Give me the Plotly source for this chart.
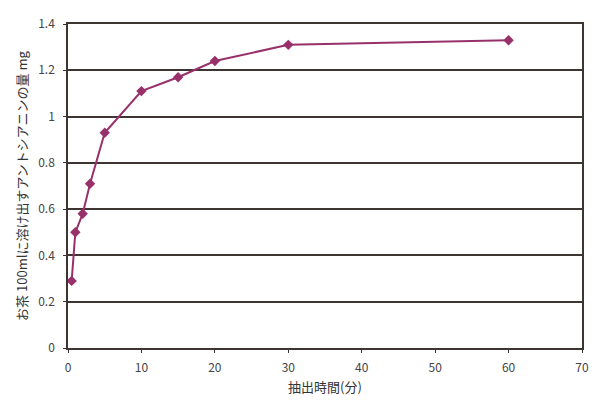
import plotly.graph_objects as go

# Extraction time (minutes) and anthocyanin amount dissolved into 100 ml of tea (mg)
minutes = [0.5, 1, 2, 3, 5, 10, 15, 20, 30, 60]
anthocyanin_mg = [0.29, 0.50, 0.58, 0.71, 0.93, 1.11, 1.17, 1.24, 1.31, 1.33]

x_ticks = [0, 10, 20, 30, 40, 50, 60, 70]
y_ticks = [0, 0.2, 0.4, 0.6, 0.8, 1.0, 1.2, 1.4]
y_tick_text = ["0", "0.2", "0.4", "0.6", "0.8", "1", "1.2", "1.4"]

line_color = "#98306a"
frame_color = "#3d3532"
font = "Noto Sans CJK JP, Noto Sans, sans-serif"

fig = go.Figure()
fig.add_trace(go.Scatter(
    x=minutes, y=anthocyanin_mg,
    mode="lines+markers",
    line=dict(color=line_color, width=2),
    marker=dict(symbol="diamond", size=8, color=line_color),
    showlegend=False,
))

fig.update_xaxes(
    range=[0, 70], tickvals=x_ticks, automargin=False,
    showgrid=False, zeroline=False,
    showline=True, linecolor=frame_color, linewidth=1.5, mirror=True,
    ticks="outside", ticklen=3, tickcolor=frame_color, ticklabelstandoff=5,
    tickfont=dict(size=12, color="#444444", family=font),
    title=dict(text="抽出時間(分)", font=dict(size=13, color="#333333", family=font), standoff=9),
)
fig.update_yaxes(
    range=[0, 1.4], tickvals=y_ticks, ticktext=y_tick_text,
    showgrid=True, gridcolor=frame_color, gridwidth=1.5, zeroline=False,
    showline=True, linecolor=frame_color, linewidth=1.5, mirror=True,
    ticks="outside", ticklen=3, tickcolor=frame_color, ticklabelstandoff=6,
    tickfont=dict(size=12, color="#444444", family=font),
    title=dict(text="お茶 100mlに溶け出すアントシアニンの量 mg",
               font=dict(size=13, color="#333333", family=font), standoff=8),
)

fig.update_layout(
    width=598, height=401,
    margin=dict(l=68, r=16, t=24, b=53),
    paper_bgcolor="white", plot_bgcolor="white",
)

fig.write_html("out.html")
